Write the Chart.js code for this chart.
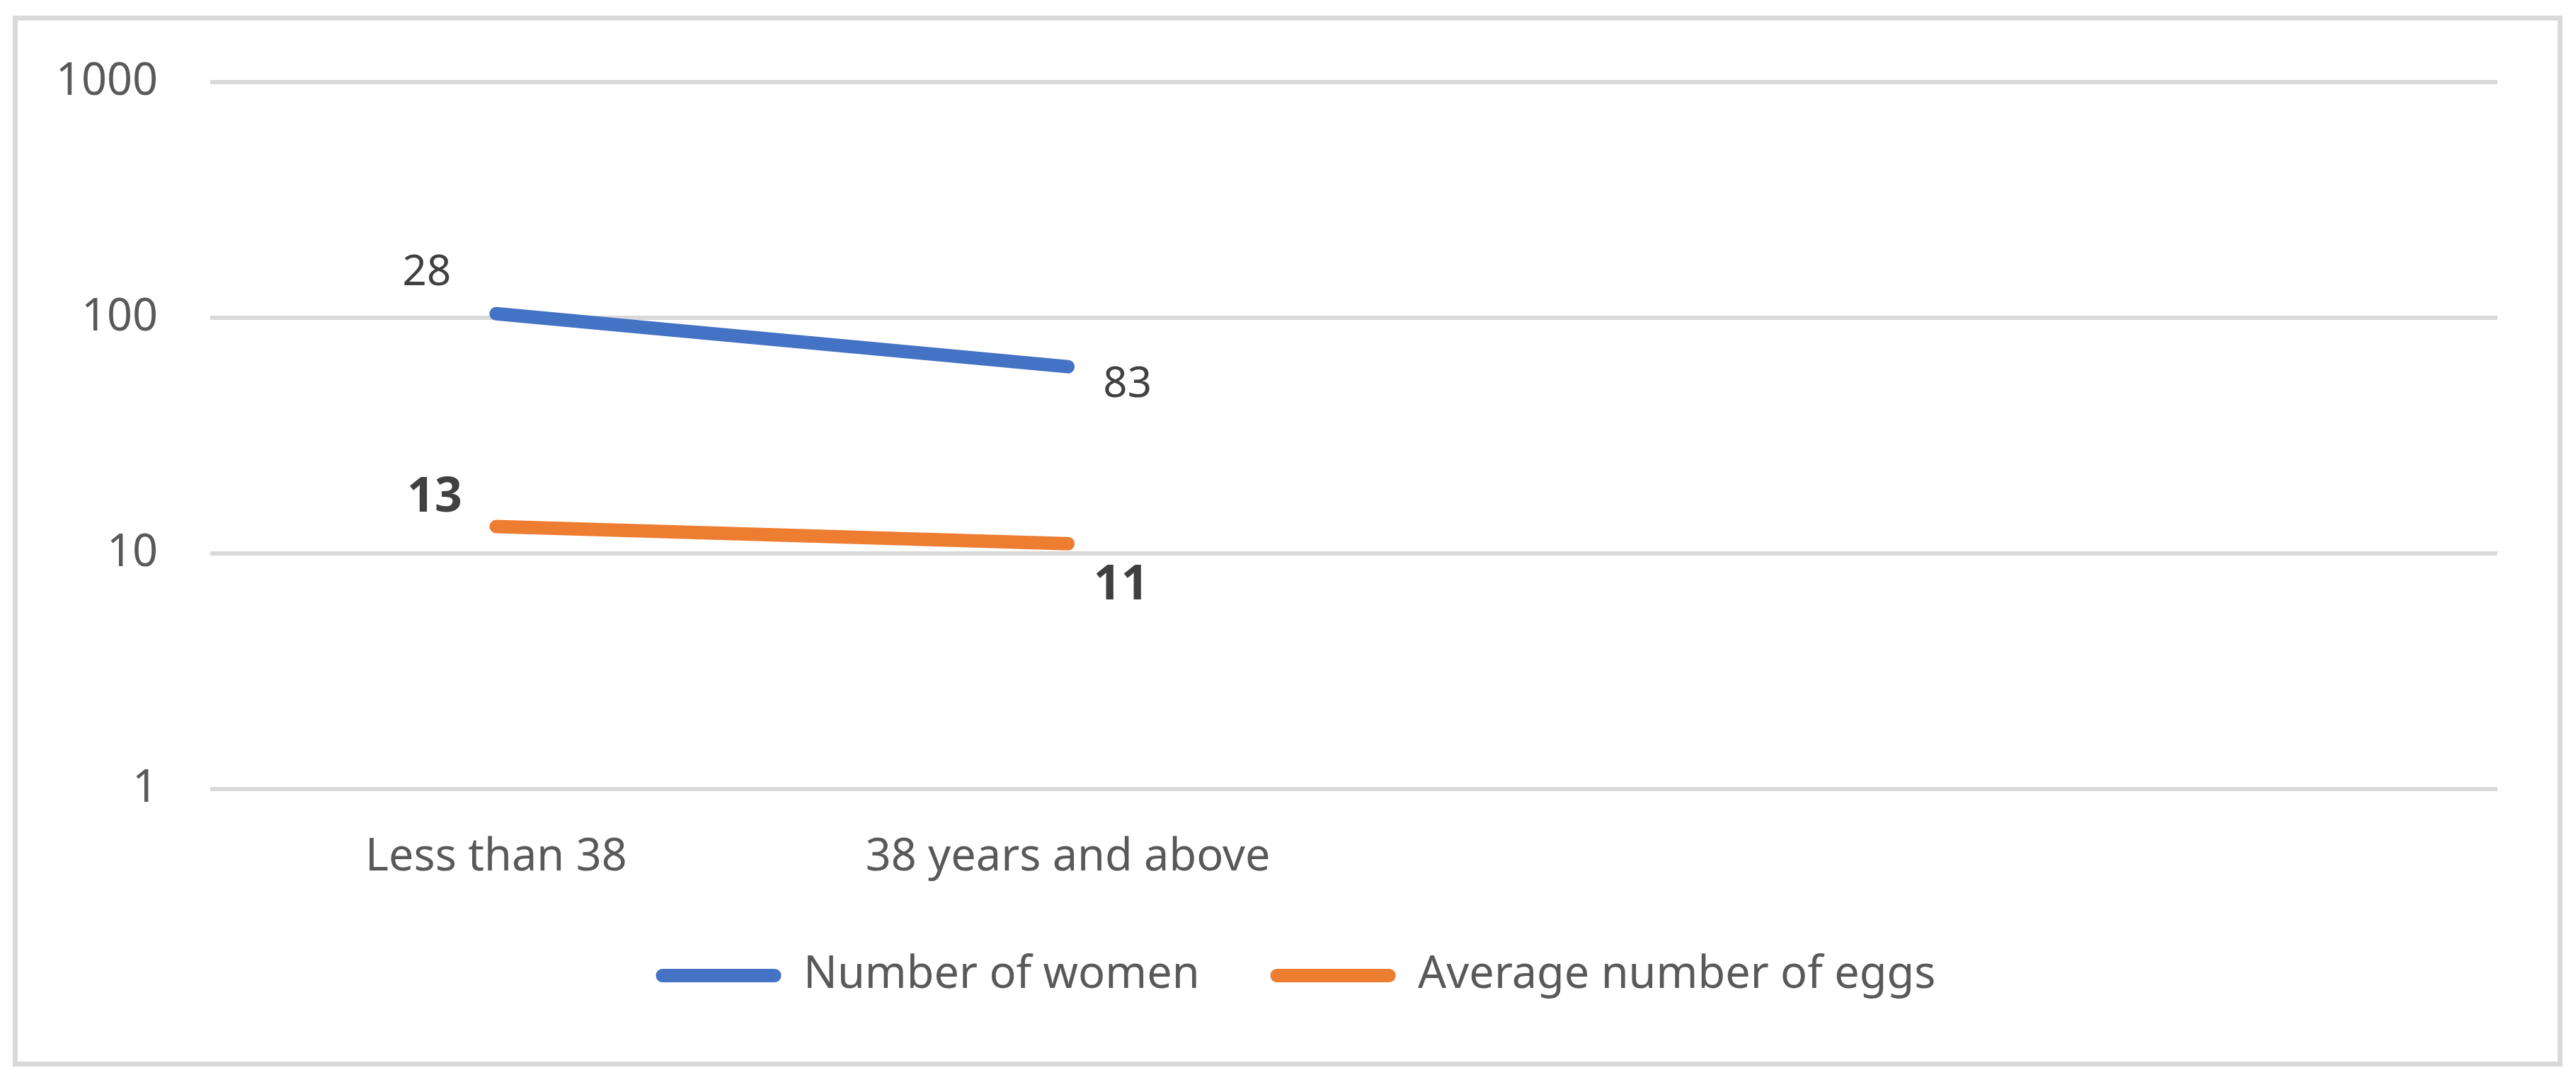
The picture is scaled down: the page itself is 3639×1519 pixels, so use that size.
<!DOCTYPE html>
<html lang="en">
<head>
    <meta charset="UTF-8">
    <title>Number of women and average number of eggs by age</title>
    <script src="https://cdn.jsdelivr.net/npm/chart.js@4.4.0/dist/chart.umd.min.js"></script>
    <style>
        * {
            margin: 0;
            padding: 0;
            box-sizing: border-box;
        }

        body {
            background: #ffffff;
            width: 3639px;
            height: 1519px;
            overflow: hidden;
        }

        .frame {
            position: absolute;
            left: 18px;
            top: 22px;
            width: 3602px;
            height: 1485px;
            border: 7px solid #d9d9d9;
            background: #ffffff;
        }

        .chart-box {
            position: relative;
            width: 100%;
            height: 100%;
        }
    </style>
</head>
<body>
    <div class="frame">
        <div class="chart-box">
            <canvas id="ageChart"></canvas>
        </div>
    </div>

    <script>
        // Data
        const categories = ['Less than 38', '38 years and above', '', ''];
        const seriesNames = ['Number of women', 'Average number of eggs'];
        const womenValues = [104, 62];
        const womenLabels = ['28', '83'];
        const eggValues = [13, 11];
        const eggLabels = ['13', '11'];
        const yTicks = [1, 10, 100, 1000];

        const FONT = "'Noto Sans', 'Open Sans', sans-serif";

        // Draws the value labels next to each point (no datalabels plugin offline)
        const pointLabels = {
            id: 'pointLabels',
            afterDatasetsDraw(chart, args, opts) {
                const ctx = chart.ctx;
                chart.data.datasets.forEach((ds, i) => {
                    const meta = chart.getDatasetMeta(i);
                    const style = opts.styles[i];
                    ctx.save();
                    ctx.font = style.weight + ' ' + style.size + 'px ' + FONT;
                    ctx.fillStyle = '#404040';
                    ctx.textAlign = 'center';
                    ctx.textBaseline = 'middle';
                    meta.data.forEach((pt, j) => {
                        const off = style.offsets[j];
                        ctx.fillText(ds.pointText[j], pt.x + off[0], pt.y + off[1]);
                    });
                    ctx.restore();
                });
            }
        };

        // nudge the legend a bit right, like the original
        const legendShift = {
            id: 'legendShift',
            afterLayout(chart, args, opts) {
                if (chart.legend) {
                    chart.legend.left += opts.dx;
                    chart.legend.right += opts.dx;
                }
            }
        };

        new Chart(document.getElementById('ageChart'), {
            type: 'line',
            data: {
                labels: categories,
                datasets: [
                    {
                        label: seriesNames[0],
                        data: womenValues,
                        pointText: womenLabels,
                        borderColor: '#4472c4',
                        backgroundColor: '#4472c4',
                        borderWidth: 19,
                        borderCapStyle: 'round',
                        pointRadius: 0,
                        tension: 0
                    },
                    {
                        label: seriesNames[1],
                        data: eggValues,
                        pointText: eggLabels,
                        borderColor: '#ed7d31',
                        backgroundColor: '#ed7d31',
                        borderWidth: 19,
                        borderCapStyle: 'round',
                        pointRadius: 0,
                        tension: 0
                    }
                ]
            },
            options: {
                responsive: true,
                maintainAspectRatio: false,
                animation: false,
                layout: {
                    padding: { top: 87, right: 85, left: 0, bottom: 80 }
                },
                scales: {
                    x: {
                        offset: true,
                        grid: { display: false, drawTicks: false },
                        border: { display: false },
                        ticks: {
                            padding: 59,
                            color: '#595959',
                            font: { family: FONT, size: 63 },
                            maxRotation: 0,
                            autoSkip: false
                        },
                        afterFit(scale) {
                            scale.height = 132;
                        }
                    },
                    y: {
                        type: 'logarithmic',
                        min: 1,
                        max: 1000,
                        grid: {
                            color: '#d9d9d9',
                            lineWidth: 6,
                            drawTicks: true,
                            tickLength: 74,
                            tickColor: 'rgba(0,0,0,0)'
                        },
                        border: { display: false },
                        ticks: {
                            padding: 0,
                            color: '#595959',
                            font: { family: FONT, size: 63 },
                            callback: v => String(v)
                        },
                        afterBuildTicks(scale) {
                            scale.ticks = yTicks.map(v => ({ value: v }));
                        },
                        afterFit(scale) {
                            scale.width = 272;
                        }
                    }
                },
                plugins: {
                    tooltip: { enabled: false },
                    legend: {
                        position: 'bottom',
                        labels: {
                            boxWidth: 177,
                            boxHeight: 19,
                            padding: 100,
                            color: '#595959',
                            font: { family: FONT, size: 63 },
                            generateLabels(chart) {
                                const items = Chart.defaults.plugins.legend.labels.generateLabels(chart);
                                return items.map(it => Object.assign(it, {
                                    lineWidth: 0,
                                    borderRadius: 9
                                }));
                            }
                        }
                    },
                    legendShift: { dx: 54 },
                    pointLabels: {
                        styles: [
                            { size: 60, weight: 'normal', offsets: [[-98, -57], [84, 26]] },
                            { size: 68, weight: 'bold', offsets: [[-87, -40], [75, 59]] }
                        ]
                    }
                }
            },
            plugins: [pointLabels, legendShift]
        });
    </script>
</body>
</html>
